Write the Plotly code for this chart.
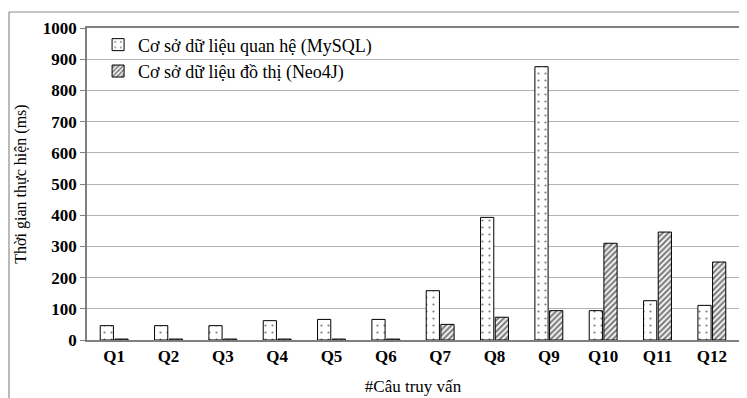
import plotly.graph_objects as go

categories = ["Q1", "Q2", "Q3", "Q4", "Q5", "Q6", "Q7", "Q8", "Q9", "Q10", "Q11", "Q12"]
mysql_ms = [46, 46, 46, 62, 66, 66, 158, 393, 876, 94, 126, 111]
neo4j_ms = [3, 3, 3, 3, 3, 3, 50, 73, 94, 310, 346, 250]
series_names = ["Cơ sở dữ liệu quan hệ (MySQL)", "Cơ sở dữ liệu đồ thị (Neo4J)"]
y_ticks = [0, 100, 200, 300, 400, 500, 600, 700, 800, 900, 1000]

FONT = "Liberation Serif, DejaVu Serif, serif"

fig = go.Figure()
fig.add_trace(go.Bar(
    x=categories, y=mysql_ms, name=series_names[0],
    marker=dict(color="white", line=dict(color="black", width=1),
                pattern=dict(shape=".", fgcolor="black", bgcolor="white", size=7, solidity=0.08)),
))
fig.add_trace(go.Bar(
    x=categories, y=neo4j_ms, name=series_names[1],
    marker=dict(color="white", line=dict(color="black", width=1),
                pattern=dict(shape="/", fgcolor="black", bgcolor="white", size=4, solidity=0.55)),
))

# the page body adds an 8px offset, so the figure is laid out 8px smaller
OFF = 8
W, H = 747 - OFF, 398 - OFF
L, T = 87 - OFF, 28 - OFF
R = W - (739 - OFF)
B = H - (340 - OFF)
pw, ph = W - L - R, H - T - B

fig.update_layout(
    width=W, height=H,
    margin=dict(l=L, r=R, t=T, b=B, autoexpand=False),
    paper_bgcolor="white", plot_bgcolor="white",
    font=dict(family=FONT, color="black"),
    barmode="group", bargap=0.46, bargroupgap=0.1,
    legend=dict(x=0.017, y=1.005, xanchor="left", yanchor="top",
                bgcolor="rgba(0,0,0,0)", font=dict(size=18, family=FONT),
                tracegroupgap=0, itemwidth=30),
    xaxis=dict(
        showgrid=False, showline=True, linecolor="#7f7f7f", linewidth=1.5,
        mirror=True, ticks="", automargin=False,
        tickfont=dict(size=17, family=FONT, weight="bold"),
        title=dict(text="#Câu truy vấn", font=dict(size=17, family=FONT), standoff=15),
    ),
    yaxis=dict(
        range=[0, 1000], tickvals=y_ticks, showgrid=True, gridcolor="#b3b3b3", gridwidth=1,
        showline=True, linecolor="#7f7f7f", linewidth=1.5, mirror=True,
        ticks="outside", ticklen=5, tickcolor="#7f7f7f", automargin=False,
        tickfont=dict(size=17, family=FONT, weight="bold"),
        title=dict(text="Thời gian thực hiện (ms)", font=dict(size=16, family=FONT), standoff=12),
        zeroline=False,
    ),
)

# outer chart-area frame (top and left edges visible)
fx = (9 - OFF - L) / pw
fy = 1 + (T - (12 - OFF)) / ph
fig.add_shape(type="line", xref="paper", yref="paper", x0=fx, x1=1.2, y0=fy, y1=fy,
              line=dict(color="#8c8c8c", width=1.2))
fig.add_shape(type="line", xref="paper", yref="paper", x0=fx, x1=fx, y0=-0.5, y1=fy,
              line=dict(color="#8c8c8c", width=1.2))

fig.write_html("out.html")
